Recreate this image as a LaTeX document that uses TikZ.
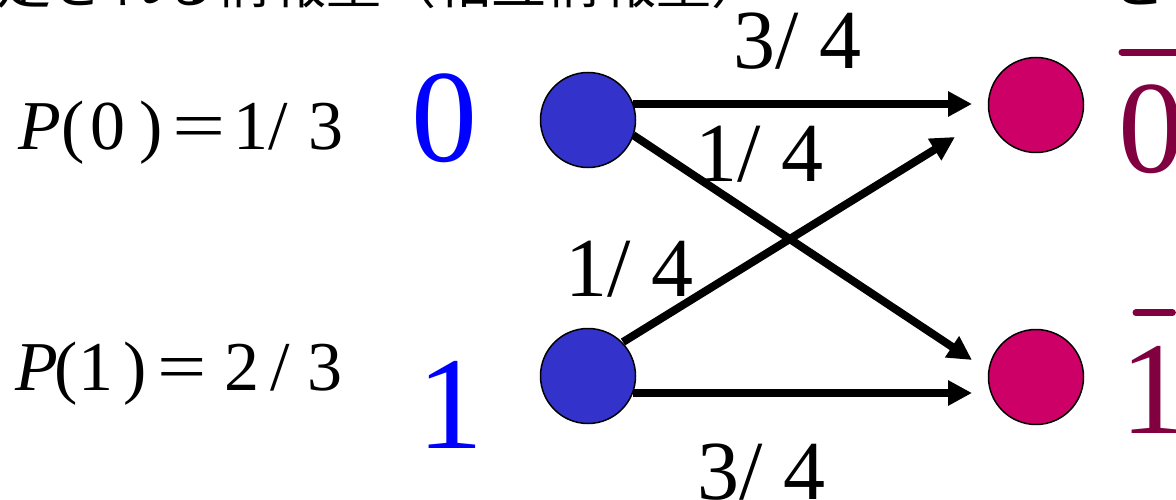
\documentclass[tikz,border=0pt]{standalone}
\usepackage{fontspec}
\usepackage{graphicx}
\setmainfont{Liberation Serif}
\newfontfamily\jpfont{Noto Sans CJK JP}
\usetikzlibrary{arrows.meta,calc}
\definecolor{srcblue}{HTML}{3333CC}
\definecolor{dstpink}{HTML}{CC0066}
\definecolor{dstlabel}{HTML}{800040}
\tikzset{
  src/.style={circle,draw=black,line width=1.5pt,fill=srcblue,minimum size=95pt,inner sep=0pt},
  dst/.style={circle,draw=black,line width=1.5pt,fill=dstpink,minimum size=95pt,inner sep=0pt},
  chan/.style={line width=8pt,-{Triangle[length=24pt,width=24pt]}},
  prob/.style={font=\fontsize{84}{90}\selectfont,inner sep=0pt,anchor=base west},
  pexpr/.style={font=\fontsize{70}{76}\selectfont,inner sep=0pt,anchor=base west},
  biglbl/.style={font=\fontsize{132}{140}\selectfont,inner sep=0pt},
  jp/.style={font=\jpfont\fontsize{55}{60}\selectfont,inner sep=0pt,anchor=base west},
  bar/.style={line width=7pt,line cap=round,draw=dstlabel}
}
\begin{document}
\begin{tikzpicture}[x=1pt,y=-1pt]
\useasboundingbox (0,0) rectangle (1176,500);
\clip (0,0) rectangle (1176,500);
% clipped heading
\node[jp] (head) at (-4,4) {定される情報量（相互情報量）};
\node[jp] (headr) at (1110,4) {と};
% nodes
\node[src] (s0) at (588,120) {};
\node[src] (s1) at (588,376) {};
\node[dst] (d0) at (1036,105) {};
\node[dst] (d1) at (1036,377) {};
% labels
\node[pexpr] (p0) at (18,150) {\textit{P}\kern1pt(\kern5pt0\kern14pt)\kern10pt\scalebox{1.35}[1]{=}\kern8pt 1/\kern20pt 3};
\node[pexpr] (p1) at (15,390) {\textit{P}\kern-3pt(1\kern10pt)\kern11pt\scalebox{1.25}[1]{=}\kern18pt 2\kern11pt/\kern17pt 3};
\node[biglbl,text=blue,anchor=base] (l0) at (444,162) {0};
\node[biglbl,text=blue,anchor=base] (l1) at (450,448) {1};
\node[biglbl,text=dstlabel,anchor=base west] (m0) at (1118,173) {0};
\node[biglbl,text=dstlabel,anchor=base west] (m1) at (1120,433) {1};
\draw[bar] ($(m0.north west)+(4,-33)$) -- ($(m0.north east)+(10,-33)$);
\draw[bar] ($(m1.north west)+(16,-33)$) -- ($(m1.north east)+(-14,-33)$);
% connectors
\draw[chan] ($(s0.center)+(45,-16)$) -- ($(d0.center)+(-64,-1)$);
\draw[chan] ($(s1.center)+(45,17)$) -- ($(d1.center)+(-64,16)$);
\draw[chan] ($(s0.center)+(45,15)$) -- ($(d1.center)+(-64,-17)$);
\draw[chan] ($(s1.center)+(35,-34)$) -- ($(d0.center)+(-81,32)$);
% transition probabilities
\node[prob] (t00) at (733,69) {3/ 4};
\node[prob] (t01) at (695,182) {1/ 4};
\node[prob] (t10) at (565,296) {1/ 4};
\node[prob] (t11) at (697,499) {3/ 4};
\end{tikzpicture}
\end{document}
